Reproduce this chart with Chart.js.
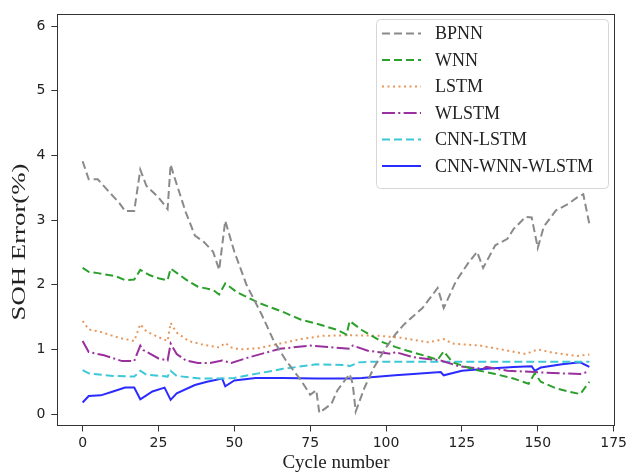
<!DOCTYPE html>
<html>
<head>
<meta charset="utf-8">
<script src="https://cdn.jsdelivr.net/npm/chart.js@4.4.1/dist/chart.umd.min.js"></script>
<style>
  html, body { margin: 0; padding: 0; background: #fff; }
</style>
</head>
<body>
<canvas id="myChart" width="630" height="474"></canvas>
<script>
// values (cycle number -> SOH error %)
const bpnnCycle = [0, 2, 5, 10, 12, 14, 17, 19, 21, 25, 28, 29, 30, 34, 37, 40, 43, 45, 47, 50, 54, 59, 63, 67, 72, 75, 77, 78, 82, 84, 88, 89, 90, 93, 96, 100, 103, 106, 112, 117, 119, 123, 127, 130, 132, 136, 140, 142, 146, 148, 150, 152, 156, 160, 163, 165, 167]
const bpnnErr = [3.91, 3.63, 3.63, 3.37, 3.27, 3.14, 3.14, 3.78, 3.53, 3.35, 3.17, 3.86, 3.70, 3.12, 2.76, 2.66, 2.51, 2.23, 2.99, 2.51, 2.0, 1.54, 1.13, 0.83, 0.52, 0.30, 0.37, 0.02, 0.16, 0.37, 0.62, 0.47, 0.04, 0.42, 0.72, 1.03, 1.23, 1.39, 1.64, 1.95, 1.64, 2.05, 2.33, 2.51, 2.26, 2.61, 2.71, 2.86, 3.05, 3.04, 2.57, 2.90, 3.15, 3.25, 3.35, 3.40, 2.94]

const wnnCycle = [0, 2, 5, 11, 14, 17, 19, 22, 25, 28, 29, 32, 35, 38, 43, 45, 47, 51, 55, 58, 66, 72, 77, 84, 87, 88, 92, 99, 103, 107, 113, 117, 119, 122, 129, 136, 142, 147, 149, 151, 156, 160, 164, 167]
const wnnErr = [2.26, 2.20, 2.18, 2.13, 2.07, 2.08, 2.23, 2.15, 2.10, 2.07, 2.25, 2.15, 2.05, 1.97, 1.92, 1.85, 2.02, 1.88, 1.79, 1.72, 1.58, 1.46, 1.40, 1.30, 1.23, 1.44, 1.30, 1.11, 1.04, 0.98, 0.90, 0.84, 0.97, 0.80, 0.69, 0.62, 0.55, 0.47, 0.63, 0.50, 0.40, 0.35, 0.31, 0.50]

const lstmCycle = [0, 2, 6, 12, 17, 19, 21, 25, 28, 29, 31, 35, 39, 45, 47, 49, 52, 58, 64, 72, 79, 88, 98, 105, 114, 119, 122, 131, 138, 146, 150, 155, 163, 167]
const lstmErr = [1.44, 1.31, 1.27, 1.18, 1.13, 1.39, 1.28, 1.19, 1.13, 1.41, 1.26, 1.13, 1.08, 1.03, 1.10, 1.03, 1.00, 1.02, 1.08, 1.16, 1.21, 1.22, 1.21, 1.18, 1.11, 1.16, 1.09, 1.06, 1.00, 0.93, 1.00, 0.95, 0.90, 0.92]

const wlstmCycle = [0, 2, 7, 13, 17, 19, 20, 25, 28, 29, 31, 34, 38, 42, 46, 49, 55, 65, 75, 83, 88, 89, 94, 102, 103, 109, 118, 124, 132, 133, 140, 149, 158, 164, 167]
const wlstmErr = [1.13, 0.96, 0.91, 0.82, 0.82, 1.06, 0.99, 0.86, 0.83, 1.09, 0.93, 0.83, 0.79, 0.79, 0.83, 0.79, 0.88, 1.01, 1.06, 1.03, 1.01, 1.06, 0.98, 0.93, 0.96, 0.88, 0.83, 0.74, 0.70, 0.73, 0.67, 0.65, 0.63, 0.62, 0.66]

const cnnlstmCycle = [0, 2, 10, 17, 19, 21, 28, 29, 31, 39, 46, 50, 58, 66, 77, 87, 88, 91, 95, 110, 130, 150, 167]
const cnnlstmErr = [0.68, 0.63, 0.59, 0.58, 0.67, 0.61, 0.58, 0.67, 0.59, 0.55, 0.55, 0.56, 0.63, 0.70, 0.77, 0.76, 0.74, 0.80, 0.81, 0.81, 0.81, 0.81, 0.81]

const oursCycle = [0, 2, 6, 10, 14, 17, 19, 20, 23, 27, 29, 31, 37, 41, 46, 47, 50, 57, 66, 77, 88, 92, 103, 109, 118, 119, 125, 133, 142, 148, 149, 151, 158, 164, 167]
const oursErr = [0.18, 0.28, 0.29, 0.35, 0.41, 0.41, 0.23, 0.26, 0.35, 0.41, 0.22, 0.32, 0.45, 0.50, 0.55, 0.43, 0.52, 0.56, 0.56, 0.55, 0.55, 0.56, 0.60, 0.62, 0.65, 0.60, 0.67, 0.70, 0.73, 0.74, 0.67, 0.72, 0.77, 0.80, 0.73]

const seriesNames = ['BPNN', 'WNN', 'LSTM', 'WLSTM', 'CNN-LSTM', 'CNN-WNN-WLSTM']
const xTicks = [0, 25, 50, 75, 100, 125, 150, 175]
const yTicks = [0, 1, 2, 3, 4, 5, 6]

const pairs = (xs, ys) => xs.map((x, i) => ({ x: x, y: ys[i] }))

const allData = [
  pairs(bpnnCycle, bpnnErr),
  pairs(wnnCycle, wnnErr),
  pairs(lstmCycle, lstmErr),
  pairs(wlstmCycle, wlstmErr),
  pairs(cnnlstmCycle, cnnlstmErr),
  pairs(oursCycle, oursErr)
]
const colors = ['#8a8a8a', '#2ca02c', '#e8975a', '#9a2f9e', '#3cc8d8', '#2b2bff']
const dashes = [[8, 4], [8, 4], [2, 3.5], [13, 3.3, 2, 3.3], [8, 4], []]

const serif = '"Liberation Serif", "Times New Roman", serif'
const sans = '"DejaVu Sans", sans-serif'

// full box round the axes, like the matplotlib spines
const frameBox = {
  id: 'frameBox',
  afterDatasetsDraw(chart) {
    const a = chart.chartArea
    const ctx = chart.ctx
    ctx.save()
    ctx.strokeStyle = '#333'
    ctx.lineWidth = 1
    ctx.strokeRect(Math.round(a.left) + 0.5, Math.round(a.top) + 0.5, Math.round(a.right - a.left), Math.round(a.bottom - a.top))
    ctx.restore()
  }
}

// the y label in the picture is drawn taller than the x label, so stretch it
const yTitle = {
  id: 'yTitle',
  afterDraw(chart) {
    const ctx = chart.ctx
    const text = 'SOH Error(%)'
    ctx.save()
    ctx.font = '19px ' + serif
    const w = ctx.measureText(text).width
    ctx.translate(20, 242)
    ctx.rotate(-Math.PI / 2)
    ctx.scale(157 / w, 1)
    ctx.fillStyle = '#222'
    ctx.textAlign = 'center'
    ctx.textBaseline = 'middle'
    ctx.fillText(text, 0, 0)
    ctx.restore()
  }
}

const legendBox = {
  id: 'legendBox',
  afterDraw(chart) {
    const ctx = chart.ctx
    const x0 = 376, y0 = 19, w = 232, h = 169
    ctx.save()
    ctx.beginPath()
    ctx.roundRect(x0 + 0.5, y0 + 0.5, w, h, 4)
    ctx.fillStyle = 'rgba(255,255,255,0.85)'
    ctx.fill()
    ctx.strokeStyle = '#d6d6d6'
    ctx.lineWidth = 1
    ctx.stroke()
    chart.data.datasets.forEach((ds, i) => {
      const y = 33.5 + i * 26.5
      ctx.beginPath()
      ctx.setLineDash(ds.borderDash)
      ctx.strokeStyle = ds.borderColor
      ctx.lineWidth = ds.borderWidth
      ctx.moveTo(382, y)
      ctx.lineTo(421, y)
      ctx.stroke()
      ctx.setLineDash([])
      ctx.font = '18px ' + serif
      ctx.fillStyle = '#222'
      ctx.textBaseline = 'middle'
      ctx.fillText(ds.label, 435, y + 1)
    })
    ctx.restore()
  }
}

const ctx = document.getElementById('myChart')
const myChart = new Chart(ctx, {
  type: 'line',
  data: {
    datasets: seriesNames.map((name, i) => ({
      label: name,
      data: allData[i],
      borderColor: colors[i],
      borderDash: dashes[i],
      borderWidth: 2,
      pointRadius: 0,
      tension: 0,
      fill: false
    }))
  },
  options: {
    responsive: false,
    animation: false,
    devicePixelRatio: 1,
    layout: { padding: { left: 0, right: 12.7, top: 10, bottom: 0 } },
    plugins: { legend: { display: false }, tooltip: { enabled: false } },
    scales: {
      x: {
        type: 'linear',
        min: -8.35,
        max: 175.35,
        afterBuildTicks: (scale) => { scale.ticks = xTicks.map(v => ({ value: v })) },
        afterFit: (scale) => { scale.height = 48.5 },
        grid: { drawOnChartArea: false, drawTicks: true, tickLength: 6, tickColor: '#333' },
        border: { display: true, color: '#333', width: 1 },
        ticks: { font: { family: sans, size: 14 }, color: '#222', padding: 3, maxRotation: 0 },
        title: { display: true, text: 'Cycle number', font: { family: serif, size: 19 }, color: '#222', padding: { top: 0, bottom: 0 } }
      },
      y: {
        type: 'linear',
        min: -0.176,
        max: 6.18,
        afterBuildTicks: (scale) => { scale.ticks = yTicks.map(v => ({ value: v })) },
        afterFit: (scale) => { scale.width = 57.3 },
        grid: { drawOnChartArea: false, drawTicks: true, tickLength: 6, tickColor: '#333' },
        border: { display: true, color: '#333', width: 1 },
        ticks: { font: { family: sans, size: 14 }, color: '#222', padding: 6 }
      }
    }
  },
  plugins: [frameBox, yTitle, legendBox]
})
</script>
</body>
</html>
